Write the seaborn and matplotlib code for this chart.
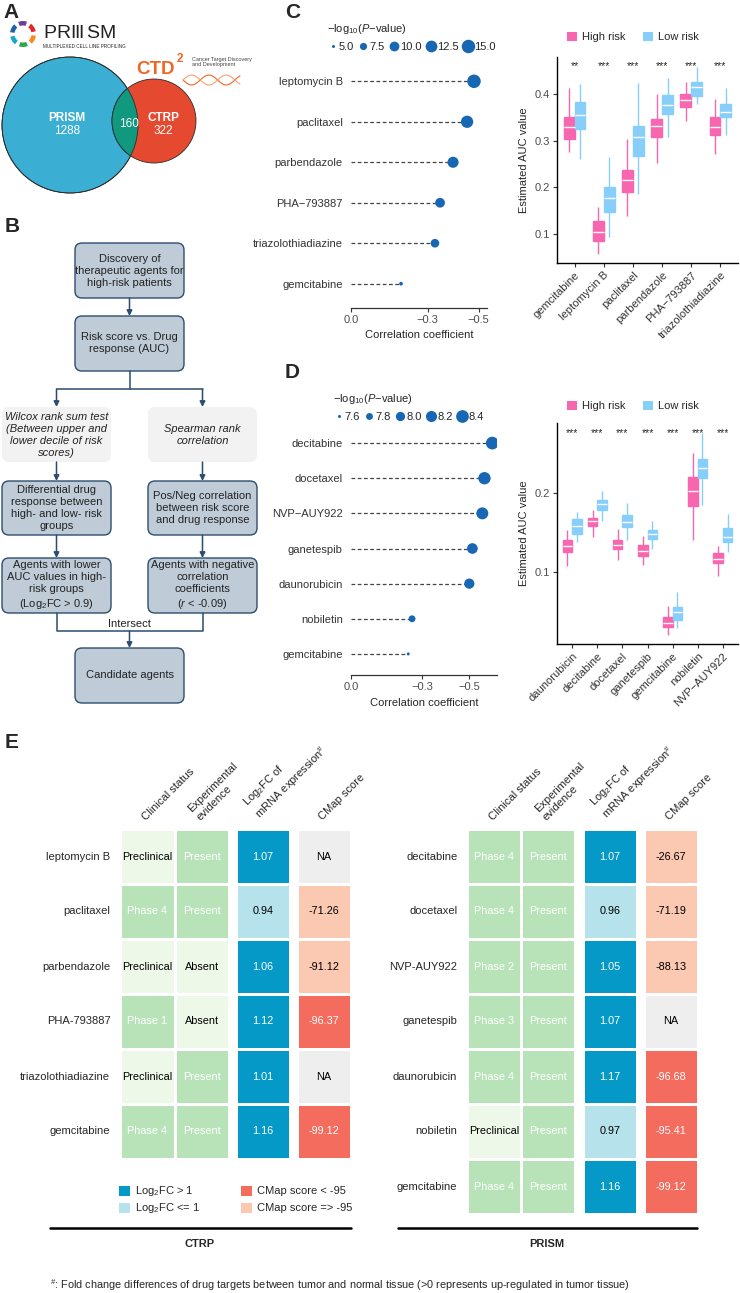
import numpy as np
import pandas as pd
import matplotlib
matplotlib.use("Agg")
import matplotlib.pyplot as plt
from matplotlib.patches import Circle, FancyBboxPatch, Rectangle, Wedge, Patch
from matplotlib.colors import ListedColormap
from matplotlib.lines import Line2D
import matplotlib.transforms as mtransforms
import seaborn as sns

# ---------------- data ----------------
# A: drugs in each screen
prism_only = 1288
shared = 160
ctrp_only = 322

# C: correlation of AUC with risk score (CTRP)
ctrp_cor_drugs = ["leptomycin B", "paclitaxel", "parbendazole", "PHA\u2212793887",
                  "triazolothiadiazine", "gemcitabine"]
ctrp_cor = [-0.482, -0.455, -0.400, -0.349, -0.329, -0.196]
ctrp_logp = [15.2, 13.2, 11.6, 10.0, 8.8, 5.3]

# C: AUC summaries (lower whisker, Q1, median, Q3, upper whisker)
ctrp_box_drugs = ["gemcitabine", "leptomycin B", "paclitaxel", "parbendazole",
                  "PHA\u2212793887", "triazolothiadiazine"]
ctrp_high = [[0.276, 0.304, 0.329, 0.351, 0.413],
             [0.057, 0.085, 0.104, 0.128, 0.158],
             [0.139, 0.190, 0.215, 0.237, 0.303],
             [0.253, 0.308, 0.332, 0.346, 0.400],
             [0.343, 0.371, 0.388, 0.399, 0.425],
             [0.271, 0.312, 0.330, 0.351, 0.389]]
ctrp_low = [[0.260, 0.325, 0.355, 0.383, 0.421],
            [0.094, 0.148, 0.177, 0.200, 0.265],
            [0.186, 0.268, 0.307, 0.331, 0.423],
            [0.308, 0.358, 0.376, 0.398, 0.434],
            [0.379, 0.396, 0.414, 0.425, 0.458],
            [0.312, 0.350, 0.362, 0.379, 0.412]]
ctrp_sig = ["**", "***", "***", "***", "***", "***"]

# D: PRISM
prism_cor_drugs = ["decitabine", "docetaxel", "NVP\u2212AUY922", "ganetespib",
                   "daunorubicin", "nobiletin", "gemcitabine"]
prism_cor = [-0.597, -0.564, -0.555, -0.513, -0.500, -0.258, -0.242]
prism_logp = [8.45, 8.35, 8.3, 8.15, 8.1, 7.8, 7.6]

prism_box_drugs = ["daunorubicin", "decitabine", "docetaxel", "ganetespib",
                   "gemcitabine", "nobiletin", "NVP\u2212AUY922"]
prism_high = [[0.108, 0.126, 0.133, 0.141, 0.154],
              [0.145, 0.158, 0.165, 0.169, 0.179],
              [0.116, 0.129, 0.135, 0.141, 0.155],
              [0.109, 0.120, 0.127, 0.134, 0.146],
              [0.021, 0.030, 0.036, 0.043, 0.057],
              [0.141, 0.184, 0.203, 0.220, 0.251],
              [0.095, 0.111, 0.117, 0.124, 0.133]]
prism_low = [[0.138, 0.149, 0.158, 0.167, 0.176],
             [0.165, 0.179, 0.186, 0.192, 0.203],
             [0.141, 0.157, 0.163, 0.173, 0.188],
             [0.129, 0.142, 0.148, 0.153, 0.165],
             [0.029, 0.039, 0.049, 0.056, 0.075],
             [0.185, 0.219, 0.232, 0.244, 0.276],
             [0.126, 0.138, 0.145, 0.156, 0.174]]
prism_sig = ["***"] * 7

# E: candidate agent tables
ctrp_tab_drugs = ["leptomycin B", "paclitaxel", "parbendazole", "PHA-793887",
                  "triazolothiadiazine", "gemcitabine"]
ctrp_status = ["Preclinical", "Phase 4", "Preclinical", "Phase 1", "Preclinical", "Phase 4"]
ctrp_evidence = ["Present", "Present", "Absent", "Absent", "Present", "Present"]
ctrp_fc = [1.07, 0.94, 1.06, 1.12, 1.01, 1.16]
ctrp_cmap = [np.nan, -71.26, -91.12, -96.37, np.nan, -99.12]

prism_tab_drugs = ["decitabine", "docetaxel", "NVP-AUY922", "ganetespib",
                   "daunorubicin", "nobiletin", "gemcitabine"]
prism_status = ["Phase 4", "Phase 4", "Phase 2", "Phase 3", "Phase 4", "Preclinical", "Phase 4"]
prism_evidence = ["Present"] * 7
prism_fc = [1.07, 0.96, 1.05, 1.07, 1.17, 0.97, 1.16]
prism_cmap = [-26.67, -71.19, -88.13, np.nan, -96.68, -95.41, -99.12]

table_cols = ["Clinical status", "Experimental\nevidence"]
fc_col = ["Log$_2$FC of\nmRNA expression$^{\\#}$"]
cmap_col = ["CMap score"]

# ---------------- style ----------------
sns.set_style("white")
plt.rcParams["font.family"] = ["Liberation Sans", "DejaVu Sans"]
plt.rcParams["mathtext.fontset"] = "custom"
plt.rcParams["mathtext.rm"] = "Liberation Sans"
plt.rcParams["mathtext.it"] = "Liberation Sans:italic"
plt.rcParams["mathtext.bf"] = "Liberation Sans:bold"
plt.rcParams["font.size"] = 8

W, H = 740, 1293
pink = "#F766AE"
sky = "#87CEFA"
dot = "#1767B5"
c_pre, c_phase = "#EEF8E8", "#B8E3B9"
c_fc_hi, c_fc_lo = "#0499C6", "#B5E2EB"
c_red, c_peach, c_na = "#F36C5D", "#FBC9B2", "#EEEEEE"
box_fc, box_ec = "#BFCCD8", "#2C4D6E"

fig = plt.figure(figsize=(W / 100, H / 100), dpi=100)
fig.patch.set_facecolor("white")

bg = fig.add_axes([0, 0, 1, 1])
bg.set_xlim(0, W)
bg.set_ylim(H, 0)
bg.axis("off")


def px_axes(x0, y0, x1, y1):
    return fig.add_axes([x0 / W, 1 - y1 / H, (x1 - x0) / W, (y1 - y0) / H])


# panel letters
for lab, x, y in [("A", 3, 13), ("B", 5, 227), ("C", 285, 12), ("D", 285, 373), ("E", 5, 742)]:
    bg.text(x, y, lab, fontsize=15, fontweight="bold", va="center", ha="left")

# ---------------- A: Venn ----------------
blue_c = Circle((70, 125), 68, fc="#3BAED3", ec="#2b2b2b", lw=0.6)
red_c = Circle((154, 121), 42, fc="#E5492F", ec="#2b2b2b", lw=0.6)
bg.add_patch(blue_c)
bg.add_patch(red_c)
mid = Circle((154, 121), 42, fc="#10997F", ec="#2b2b2b", lw=0.6)
bg.add_patch(mid)
mid.set_clip_path(blue_c)
bg.add_patch(Circle((70, 125), 68, fc="none", ec="#2b2b2b", lw=0.6))
bg.text(67, 118, "PRISM", color="white", fontweight="bold", fontsize=8.5, ha="center", va="center")
bg.text(67, 131, f"{prism_only}", color="white", fontsize=8.5, ha="center", va="center")
bg.text(129, 124, f"{shared}", color="white", fontsize=8.5, ha="center", va="center")
bg.text(163, 118, "CTRP", color="white", fontweight="bold", fontsize=8.5, ha="center", va="center")
bg.text(163, 131, f"{ctrp_only}", color="white", fontsize=8.5, ha="center", va="center")

# PRISM logo
ring_cols = ["#E4262B", "#F68B1F", "#2BA84A", "#1CA5C9", "#2160AE", "#6B3FA0"]
for i, col in enumerate(ring_cols):
    a0 = -60 + i * 60 + 8
    bg.add_patch(Wedge((23, 34), 13, a0, a0 + 40, width=4.5, fc=col, ec="none"))
for letter, lx in [("P", 43), ("R", 56), ("I", 70), ("I", 74), ("I", 78), ("S", 86), ("M", 99)]:
    bg.text(lx, 34, letter, fontsize=14, color="#222222", va="center", ha="left",
            fontweight="light")
bg.text(43, 46, "MULTIPLEXED CELL LINE PROFILING", fontsize=3.3, color="#222222",
        va="center", ha="left")

# CTD2 logo
bg.text(136, 69, "CTD", fontsize=13.5, fontweight="bold", color="#F26522", va="center", ha="left")
bg.text(177, 59, "2", fontsize=8.5, fontweight="bold", color="#F26522", va="center", ha="left")
bg.text(192, 62, "Cancer Target Discovery\nand Development", fontsize=4, color="#444444",
        va="center", ha="left", linespacing=1.1)
xs = np.linspace(183, 240, 60)
bg.plot(xs, 80 + 5 * np.sin((xs - 183) / 5.5), color="#F26522", lw=0.8)
bg.plot(xs, 80 - 5 * np.sin((xs - 183) / 5.5), color="#F7A072", lw=0.8)

# ---------------- B: flowchart ----------------
def fbox(x0, y0, x1, y1, text, fc=box_fc, ec=box_ec, italic=False):
    bg.add_patch(FancyBboxPatch((x0, y0), x1 - x0, y1 - y0,
                                boxstyle="round,pad=0,rounding_size=7",
                                fc=fc, ec=ec, lw=1.0))
    bg.text((x0 + x1) / 2, (y0 + y1) / 2, text, ha="center", va="center", fontsize=8,
            style="italic" if italic else "normal", linespacing=1.25, color="#222222")


def arrow(x, y0, y1):
    bg.annotate("", xy=(x, y1), xytext=(x, y0),
                arrowprops=dict(arrowstyle="-|>", color=box_ec, lw=1.1,
                                mutation_scale=8, shrinkA=0, shrinkB=0))


xc, xl, xr = 129.5, 56.5, 202.5
fbox(75, 243, 184, 298, "Discovery of\ntherapeutic agents for\nhigh-risk patients")
arrow(xc, 298, 316)
fbox(75, 316, 184, 371, "Risk score vs. Drug\nresponse (AUC)")
bg.plot([xc, xc], [371, 389], color=box_ec, lw=1.1)
bg.plot([xl, xr], [389, 389], color=box_ec, lw=1.1)
arrow(xl, 389, 407)
arrow(xr, 389, 407)
fbox(2, 407, 111, 462, "Wilcox rank sum test\n(Between upper and\nlower decile of risk\nscores)",
     fc="#F2F2F2", ec="none", italic=True)
fbox(148, 407, 257, 462, "Spearman rank\ncorrelation", fc="#F2F2F2", ec="none", italic=True)
arrow(xl, 462, 481)
arrow(xr, 462, 481)
fbox(2, 481, 111, 535, "Differential drug\nresponse between\nhigh- and low- risk\ngroups")
fbox(148, 481, 257, 535, "Pos/Neg correlation\nbetween risk score\nand drug response")
arrow(xl, 535, 558)
arrow(xr, 535, 558)
fbox(2, 558, 111, 613, "Agents with lower\nAUC values in high-\nrisk groups\n(Log$_2$FC > 0.9)")
fbox(148, 558, 257, 613, "Agents with negative\ncorrelation\ncoefficients\n($r$ < -0.09)")
bg.plot([xl, xl, xr, xr], [613, 631, 631, 613], color=box_ec, lw=1.1)
bg.text(xc, 624, "Intersect", fontsize=8, ha="center", va="center", color="#222222")
arrow(xc, 631, 648)
fbox(75, 648, 184, 703, "Candidate agents")


# ---------------- C / D: lollipops ----------------
def lollipop(ax, drugs, cor, logp, norm, sizes, xlim):
    n = len(drugs)
    df = pd.DataFrame({"pos": np.arange(n), "cor": cor, "logp": logp})
    ax.hlines(df["pos"], 0, df["cor"], colors="#444444", lw=0.9, linestyles=(0, (3, 2)))
    sns.scatterplot(data=df, x="cor", y="pos", size="logp", sizes=sizes, size_norm=norm,
                    color=dot, edgecolor="none", legend=False, ax=ax, zorder=3)
    ax.set_xlim(*xlim)
    ax.set_ylim(n - 0.4, -0.6)
    ax.set_yticks(np.arange(n))
    ax.set_yticklabels(drugs, fontsize=8, color="#333333")
    ax.set_xticks([0, -0.3, -0.5])
    ax.set_xticklabels(["0.0", "\u22120.3", "\u22120.5"], fontsize=8, color="#4D4D4D")
    ax.tick_params(axis="y", length=0, pad=6)
    ax.tick_params(axis="x", bottom=True, length=3, width=0.8, color="#333333", pad=2)
    for s in ["left", "top", "right"]:
        ax.spines[s].set_visible(False)
    ax.spines["bottom"].set_color("#333333")
    ax.spines["bottom"].set_linewidth(0.9)
    ax.set_ylabel("")
    ax.set_xlabel("Correlation coefficient", fontsize=8, labelpad=4)
    ax.patch.set_alpha(0)


def size_legend(ax, values, labels, norm, sizes, x, y):
    lo, hi = sizes
    handles = []
    for v in values:
        s = lo + (v - norm[0]) / (norm[1] - norm[0]) * (hi - lo)
        handles.append(Line2D([], [], ls="", marker="o", markersize=np.sqrt(s),
                              color=dot, mec="none"))
    ax.legend(handles, labels, title="$-$log$_{10}$($P$$-$value)", ncol=len(values),
              loc="upper left", bbox_to_anchor=(x / W, 1 - y / H),
              bbox_transform=fig.transFigure, frameon=False, fontsize=8,
              title_fontsize=8, handletextpad=0.05, columnspacing=0.35,
              handlelength=1.0, borderpad=0, borderaxespad=0, alignment="left")


axc = px_axes(351, 57, 487, 308)
lollipop(axc, ctrp_cor_drugs, ctrp_cor, ctrp_logp, (5, 15), (4.7, 94), (0.0, -0.533))
size_legend(axc, [5, 7.5, 10, 12.5, 15], ["5.0", "7.5", "10.0", "12.5", "15.0"],
            (5, 15), (4.7, 94), 327, 22)

axd = px_axes(351, 422, 497, 675)
lollipop(axd, prism_cor_drugs, prism_cor, prism_logp, (7.6, 8.4), (4.7, 84), (0.0, -0.617))
size_legend(axd, [7.6, 7.8, 8.0, 8.2, 8.4], ["7.6", "7.8", "8.0", "8.2", "8.4"],
            (7.6, 8.4), (4.7, 84), 333, 392)


# ---------------- C / D: boxplots ----------------
def box_panel(ax, drugs, high, low, sig, ylim, yticks, leg_y):
    rows = []
    for d, h, l in zip(drugs, high, low):
        rows += [(d, "High risk", v) for v in h]
        rows += [(d, "Low risk", v) for v in l]
    df = pd.DataFrame(rows, columns=["drug", "group", "auc"])
    sns.boxplot(data=df, x="drug", y="auc", hue="group", order=drugs,
                hue_order=["High risk", "Low risk"], palette=[pink, sky],
                whis=(0, 100), width=0.75, gap=0, saturation=1, showcaps=False,
                fliersize=0, linewidth=1, legend=False, ax=ax)
    for cont, col in zip(ax.containers, [pink, sky]):
        for b in cont.boxes:
            b.set_facecolor(col)
            b.set_edgecolor(col)
        for w in cont.whiskers:
            w.set_color(col)
            w.set_linewidth(1.0)
        for m in cont.medians:
            m.set_color("white")
            m.set_linewidth(1.0)
    n = len(drugs)
    ax.set_xlim(-0.6, n - 0.4)
    ax.set_ylim(*ylim)
    ax.set_yticks(yticks)
    ax.set_yticklabels([f"{t:.1f}" for t in yticks], fontsize=8, color="#4D4D4D")
    ax.set_xticks(np.arange(n))
    ax.set_xticklabels(drugs, rotation=45, ha="right", rotation_mode="anchor",
                       fontsize=8, color="#333333")
    ax.tick_params(axis="both", bottom=True, left=True, length=3, width=0.8,
                   color="#333333", pad=2)
    for s in ["top", "right"]:
        ax.spines[s].set_visible(False)
    for s in ["left", "bottom"]:
        ax.spines[s].set_color("black")
        ax.spines[s].set_linewidth(1.0)
    ax.set_xlabel("")
    ax.set_ylabel("Estimated AUC value", fontsize=8, labelpad=4)
    trans = mtransforms.blended_transform_factory(ax.transData, ax.transAxes)
    for i, s in enumerate(sig):
        ax.text(i, 0.955, s, transform=trans, ha="center", va="center", fontsize=7.5)
    ax.patch.set_alpha(0)
    handles = [Patch(fc=pink, ec="none"), Patch(fc=sky, ec="none")]
    ax.legend(handles, ["High risk", "Low risk"], ncol=2, loc="center",
              bbox_to_anchor=(633 / W, 1 - leg_y / H), bbox_transform=fig.transFigure,
              frameon=False, fontsize=8, handlelength=0.9, handleheight=0.9,
              handletextpad=0.4, columnspacing=1.6, borderpad=0)


axcb = px_axes(557, 57, 738, 263)
box_panel(axcb, ctrp_box_drugs, ctrp_high, ctrp_low, ctrp_sig, (0.038, 0.479),
          [0.1, 0.2, 0.3, 0.4], 37)
axdb = px_axes(557, 423, 738, 644)
box_panel(axdb, prism_box_drugs, prism_high, prism_low, prism_sig, (0.009, 0.289),
          [0.1, 0.2], 406)


# ---------------- E: tables ----------------
def color_texts(ax, codes, white_codes):
    for t, c in zip(ax.texts, np.asarray(codes).flatten()):
        t.set_color("white" if c in white_codes else "black")


def top_labels(ax, labels):
    ax.xaxis.tick_top()
    ax.set_xticklabels(labels, rotation=45, ha="left", va="bottom",
                       rotation_mode="anchor", fontsize=8)
    ax.tick_params(axis="x", length=0, pad=5, top=True, bottom=False)


def table(xs, y0, y1, drugs, status, evidence, fc, cmap_vals):
    ax1 = px_axes(xs[0], y0, xs[1], y1)
    codes = np.array([[0 if s == "Preclinical" else 1, 1 if e == "Present" else 0]
                      for s, e in zip(status, evidence)])
    annot = np.array([[s, e] for s, e in zip(status, evidence)])
    sns.heatmap(codes, ax=ax1, cmap=ListedColormap([c_pre, c_phase]), vmin=-0.5, vmax=1.5,
                cbar=False, annot=annot, fmt="", linewidths=1, linecolor="white",
                xticklabels=table_cols, yticklabels=drugs, annot_kws={"fontsize": 7.8})
    color_texts(ax1, codes, [1])
    top_labels(ax1, table_cols)
    ax1.set_yticklabels(drugs, rotation=0, fontsize=8)
    ax1.tick_params(axis="y", length=0, pad=7)

    ax2 = px_axes(xs[2], y0, xs[3], y1)
    fc_arr = np.array(fc).reshape(-1, 1)
    fc_codes = (fc_arr > 1).astype(int)
    sns.heatmap(fc_codes, ax=ax2, cmap=ListedColormap([c_fc_lo, c_fc_hi]), vmin=-0.5,
                vmax=1.5, cbar=False, annot=fc_arr, fmt=".2f", linewidths=1,
                linecolor="white", xticklabels=fc_col, yticklabels=False,
                annot_kws={"fontsize": 7.8})
    color_texts(ax2, fc_codes, [1])
    top_labels(ax2, fc_col)

    ax3 = px_axes(xs[4], y0, xs[5], y1)
    cm = np.array(cmap_vals, dtype=float)
    cm_codes = np.where(np.isnan(cm), 2, np.where(cm < -95, 1, 0)).reshape(-1, 1)
    cm_annot = np.array(["NA" if np.isnan(v) else f"{v:.2f}" for v in cm]).reshape(-1, 1)
    sns.heatmap(cm_codes, ax=ax3, cmap=ListedColormap([c_peach, c_red, c_na]), vmin=-0.5,
                vmax=2.5, cbar=False, annot=cm_annot, fmt="", linewidths=1,
                linecolor="white", xticklabels=cmap_col, yticklabels=False,
                annot_kws={"fontsize": 7.8})
    color_texts(ax3, cm_codes, [1])
    top_labels(ax3, cmap_col)


table([120, 229, 236, 290, 297, 351], 829, 1159, ctrp_tab_drugs, ctrp_status,
      ctrp_evidence, ctrp_fc, ctrp_cmap)
table([467, 575, 583, 637, 644, 698], 829, 1214, prism_tab_drugs, prism_status,
      prism_evidence, prism_fc, prism_cmap)

# legend of E
for (x, y, col, txt) in [(119, 1186, c_fc_hi, "Log$_2$FC > 1"),
                         (119, 1203, c_fc_lo, "Log$_2$FC <= 1"),
                         (241, 1186, c_red, "CMap score < -95"),
                         (241, 1203, c_peach, "CMap score => -95")]:
    bg.add_patch(Rectangle((x, y), 11, 10, fc=col, ec="none"))
    bg.text(x + 16, y + 5, txt, fontsize=8, va="center", ha="left")

bg.plot([50, 351], [1228, 1228], color="black", lw=1.8)
bg.plot([398, 697], [1228, 1228], color="black", lw=1.8)
bg.text(200, 1244, "CTRP", fontsize=8, fontweight="bold", ha="center", va="center")
bg.text(547, 1244, "PRISM", fontsize=8, fontweight="bold", ha="center", va="center")
bg.text(50, 1285, "$^{\\#}$: Fold change differences of drug targets between tumor and normal "
        "tissue (>0 represents up-regulated in tumor tissue)", fontsize=7.8,
        ha="left", va="center")

fig.savefig("out.png", dpi=100)
